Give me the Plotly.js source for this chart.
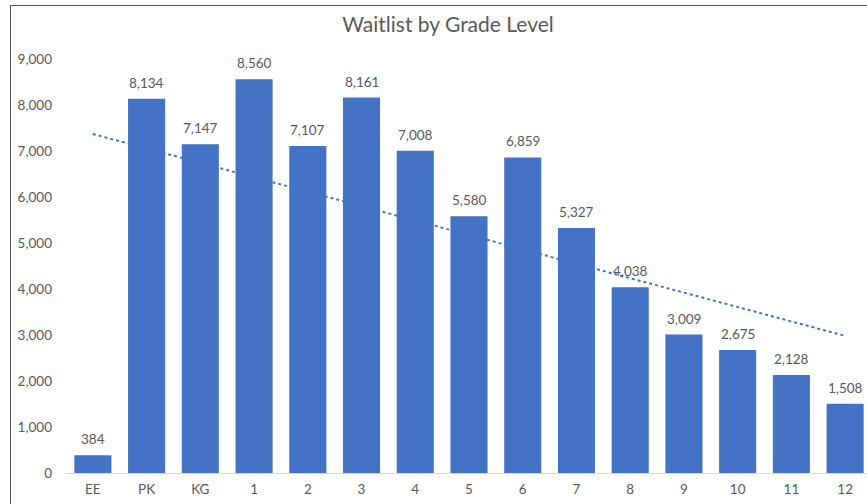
<!DOCTYPE html>
<html><head><meta charset="utf-8">
<script src="https://cdn.plot.ly/plotly-3.0.1.min.js"></script>
<style>
html,body{margin:0;padding:0;overflow:hidden;background:#fff;width:867px;height:504px;}
#chart{position:absolute;left:0;top:0;width:880px;height:504px;}
#frame{position:absolute;left:10px;top:5px;width:900px;height:520px;border:1px solid #595959;pointer-events:none;box-sizing:border-box;}
</style></head>
<body>
<div id="chart"></div>
<div id="frame"></div>
<script>
const grades = ["EE","PK","KG","1","2","3","4","5","6","7","8","9","10","11","12"];
const waitlist = [384,8134,7147,8560,7107,8161,7008,5580,6859,5327,4038,3009,2675,2128,1508];
const yTicks = [0,1000,2000,3000,4000,5000,6000,7000,8000,9000];

// linear trendline (least squares) derived from the data
const n = waitlist.length;
const xs = waitlist.map((_, i) => i + 1);
const mx = xs.reduce((a,b)=>a+b,0)/n;
const my = waitlist.reduce((a,b)=>a+b,0)/n;
let sxy = 0, sxx = 0;
for (let i = 0; i < n; i++) { sxy += (xs[i]-mx)*(waitlist[i]-my); sxx += (xs[i]-mx)**2; }
const slope = sxy/sxx, icpt = my - slope*mx;
const trend = xs.map(x => icpt + slope*x);

const font = "Lato, 'Open Sans', sans-serif";
const grey = "#595959";

// data labels: x given as category index so numeric-looking grades are not misread
const labels = grades.map((g, i) => ({
  x: i, y: waitlist[i], xref: "x", yref: "y",
  text: waitlist[i].toLocaleString("en-US"),
  showarrow: false, yanchor: "middle", yshift: 16,
  font: {family: font, size: 13.5, color: grey}
}));

Plotly.newPlot("chart", [
  {
    type: "bar", x: grades, y: waitlist,
    marker: {color: "#4472C4"},
    hoverinfo: "x+y"
  },
  {
    type: "scatter", mode: "lines", x: grades, y: trend,
    line: {color: "#4472C4", width: 2, dash: "dot"},
    hoverinfo: "skip"
  }
], {
  width: 880, height: 504,
  margin: {l: 66, r: 8, t: 59, b: 31},
  paper_bgcolor: "#fff", plot_bgcolor: "#fff",
  showlegend: false,
  bargap: 0.31,
  annotations: labels,
  title: {text: "Waitlist by Grade Level", font: {family: font, size: 21, color: grey},
          x: 448/880, xref: "container", xanchor: "center", y: 1 - 25/504, yref: "container", yanchor: "middle"},
  xaxis: {type: "category", showline: true, linecolor: "#D9D9D9", linewidth: 1,
          showgrid: false, ticks: "", tickfont: {family: font, size: 13.5, color: grey}, ticklabelstandoff: 4},
  yaxis: {range: [0, 9000], tickvals: yTicks, ticktext: yTicks.map(v => v.toLocaleString("en-US")),
          showgrid: false, zeroline: false, showline: false, ticks: "",
          tickfont: {family: font, size: 13.5, color: grey}, ticklabelstandoff: 13}
}, {staticPlot: true});
</script>
</body></html>
